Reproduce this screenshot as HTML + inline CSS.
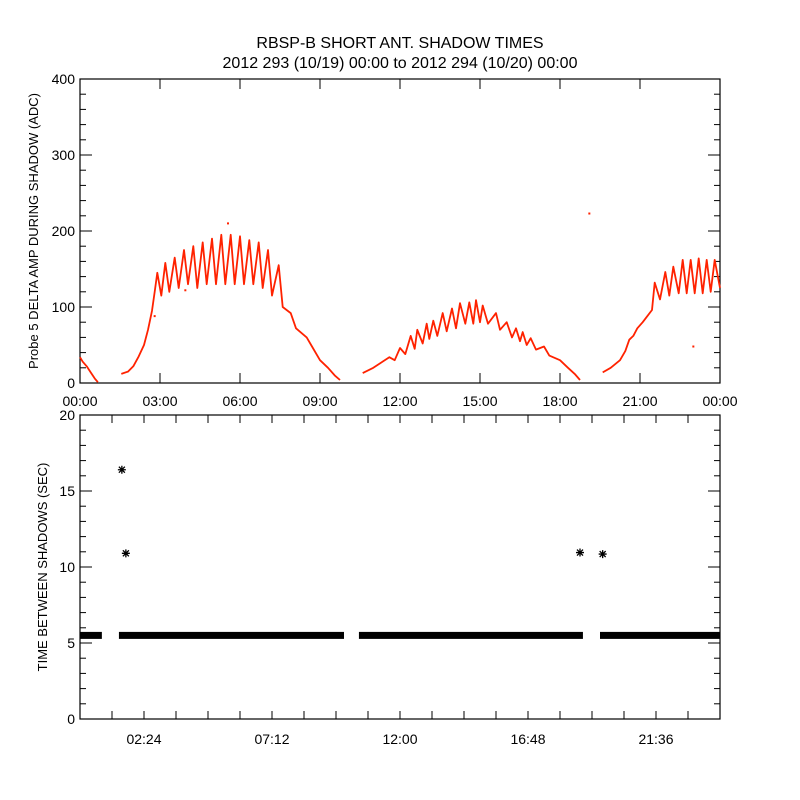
<!DOCTYPE html>
<html><head><meta charset="utf-8">
<style>
html,body{margin:0;padding:0;background:#fff;}
svg{display:block;font-family:"Liberation Sans",sans-serif;}
</style></head>
<body>
<svg id="chart" width="800" height="800" viewBox="0 0 800 800">
<rect width="800" height="800" fill="#fff"/>
<text x="400" y="48" text-anchor="middle" font-size="16">RBSP-B SHORT ANT. SHADOW TIMES</text>
<text x="400" y="68" text-anchor="middle" font-size="16">2012 293 (10/19) 00:00 to 2012 294 (10/20) 00:00</text>
<text transform="translate(38,231) rotate(-90)" text-anchor="middle" font-size="13">Probe 5 DELTA AMP DURING SHADOW (ADC)</text>
<text transform="translate(47,567) rotate(-90)" text-anchor="middle" font-size="13">TIME BETWEEN SHADOWS (SEC)</text>
<g id="topPanel"></g>
<g id="botPanel"></g>
</svg>
<script>
// ---- top panel data (hours, ADC) ----
const hump1 = [[0.0,34],[0.1,28],[0.25,22],[0.4,14],[0.55,6],[0.67,1]];
const hump2 = [[1.55,12],[1.8,15],[2.0,22],[2.2,35],[2.4,50],[2.55,70],[2.7,95],[2.8,120],[2.9,145],[3.05,115],[3.2,158],[3.35,120],[3.55,165],[3.7,125],[3.9,175],[4.05,130],[4.25,180],[4.4,125],[4.6,185],[4.75,130],[4.95,190],[5.1,130],[5.3,195],[5.45,130],[5.65,195],[5.8,130],[6.0,193],[6.15,130],[6.35,188],[6.5,130],[6.7,185],[6.85,125],[7.05,175],[7.2,115],[7.45,155],[7.6,100],[7.9,92],[8.1,72],[8.5,60],[8.7,48],[9.0,30],[9.3,20],[9.55,10],[9.75,4]];
const hump3 = [[10.6,13],[11.0,20],[11.6,34],[11.8,30],[12.0,46],[12.2,38],[12.4,62],[12.55,45],[12.65,70],[12.85,52],[13.0,78],[13.1,58],[13.25,82],[13.4,62],[13.6,92],[13.75,68],[13.95,98],[14.1,72],[14.25,105],[14.45,78],[14.6,106],[14.75,78],[14.85,109],[15.0,80],[15.1,102],[15.3,78],[15.6,92],[15.75,70],[16.0,80],[16.2,60],[16.35,72],[16.5,55],[16.6,67],[16.75,50],[16.9,59],[17.1,44],[17.4,48],[17.6,36],[18.0,30],[18.3,20],[18.55,12],[18.75,4]];
const hump4 = [[19.6,14],[19.9,20],[20.25,30],[20.45,42],[20.6,57],[20.75,62],[20.9,72],[21.1,80],[21.25,87],[21.45,96],[21.55,132],[21.75,110],[21.95,146],[22.1,115],[22.25,153],[22.45,118],[22.6,162],[22.75,118],[22.9,162],[23.05,118],[23.2,164],[23.35,118],[23.5,162],[23.65,120],[23.8,162],[24.0,125]];
const topOutliers = [[2.8,88],[5.55,210],[19.1,223],[3.95,122],[23.0,48]];
const topYTicks = [0,100,200,300,400];
const topXTickLabels = ["00:00","03:00","06:00","09:00","12:00","15:00","18:00","21:00","00:00"];
// ---- bottom panel data (hours, seconds) ----
const bandSegments = [[0.0,0.82],[1.46,9.9],[10.46,18.86],[19.5,24.0]];
const bandValue = 5.5;
const botOutliers = [[1.57,16.4],[1.72,10.9],[18.75,10.95],[19.6,10.85]];
const botYTicks = [0,5,10,15,20];
const botXTicks = [2.4,7.2,12.0,16.8,21.6];
const botXTickLabels = ["02:24","07:12","12:00","16:48","21:36"];

const NS="http://www.w3.org/2000/svg";
const L=80,R=720;
const T1=79,B1=383,T2=415,B2=719;
const xs=h=>L+(R-L)*h/24;
const y1=v=>B1-(B1-T1)*v/400;
const y2=v=>B2-(B2-T2)*v/20;
function mk(p,tag,at){const e=document.createElementNS(NS,tag);for(const k in at)e.setAttribute(k,at[k]);p.appendChild(e);return e;}

const topG=document.getElementById('topPanel');
let fr=mk(topG,'rect',{x:L,y:T1,width:R-L,height:B1-T1,fill:'none',stroke:'#000','stroke-width':1.2});


for(let v=0;v<=400;v+=20){
  const len=(v%100===0)?12:6, y=y1(v);
  mk(topG,'line',{x1:L,x2:L+len,y1:y,y2:y,stroke:'#000'});
  mk(topG,'line',{x1:R,x2:R-len,y1:y,y2:y,stroke:'#000'});
}
topYTicks.forEach(v=>{
  const t=mk(topG,'text',{x:75,y:y1(v)+5,'text-anchor':'end','font-size':14});
  t.textContent=v;
  
  
});
topXTickLabels.forEach((s,i)=>{
  const x=xs(i*3);
  mk(topG,'line',{x1:x,x2:x,y1:B1,y2:B1-10,stroke:'#000'});
  mk(topG,'line',{x1:x,x2:x,y1:T1,y2:T1+10,stroke:'#000'});
  const t=mk(topG,'text',{x:x,y:406,'text-anchor':'middle','font-size':14});
  t.textContent=s;
  
  
});
[hump1,hump2,hump3,hump4].forEach((h,i)=>{
  const pts=h.map(p=>xs(p[0]).toFixed(1)+','+y1(p[1]).toFixed(1)).join(' ');
  const pl=mk(topG,'polyline',{points:pts,fill:'none',stroke:'#ff2200','stroke-width':1.8,'stroke-linejoin':'round'});
  
  
});
topOutliers.forEach(p=>{
  const r=mk(topG,'rect',{x:xs(p[0])-1,y:y1(p[1])-1,width:2,height:2,fill:'#ff2200'});
  
  
});

const botG=document.getElementById('botPanel');
let fr2=mk(botG,'rect',{x:L,y:T2,width:R-L,height:B2-T2,fill:'none',stroke:'#000','stroke-width':1.2});


for(let v=0;v<=20;v++){
  const len=(v%5===0)?12:6,y=y2(v);
  mk(botG,'line',{x1:L,x2:L+len,y1:y,y2:y,stroke:'#000'});
  mk(botG,'line',{x1:R,x2:R-len,y1:y,y2:y,stroke:'#000'});
}
botYTicks.forEach(v=>{
  const t=mk(botG,'text',{x:75,y:y2(v)+5,'text-anchor':'end','font-size':14});
  t.textContent=v;
  
  
});
for(let h=1.2;h<24;h+=1.2){
  const x=xs(h);
  mk(botG,'line',{x1:x,x2:x,y1:B2,y2:B2-8,stroke:'#000'});
  mk(botG,'line',{x1:x,x2:x,y1:T2,y2:T2+8,stroke:'#000'});
}
botXTicks.forEach((h,i)=>{
  const t=mk(botG,'text',{x:xs(h),y:744,'text-anchor':'middle','font-size':14});
  t.textContent=botXTickLabels[i];
  
  
});
bandSegments.forEach(s=>{
  const r=mk(botG,'rect',{x:xs(s[0]),y:y2(bandValue)-3.5,width:xs(s[1])-xs(s[0]),height:7,fill:'#000'});
  
  
});
botOutliers.forEach(p=>{
  const cx=xs(p[0]), cy=y2(p[1]), s=4;
  const d=`M${cx-s},${cy}H${cx+s}M${cx},${cy-s}V${cy+s}M${cx-3},${cy-3}L${cx+3},${cy+3}M${cx-3},${cy+3}L${cx+3},${cy-3}`;
  const a=mk(botG,'path',{d:d,stroke:'#000','stroke-width':1.3,fill:'none'});
  
  
});
</script>
</body></html>
